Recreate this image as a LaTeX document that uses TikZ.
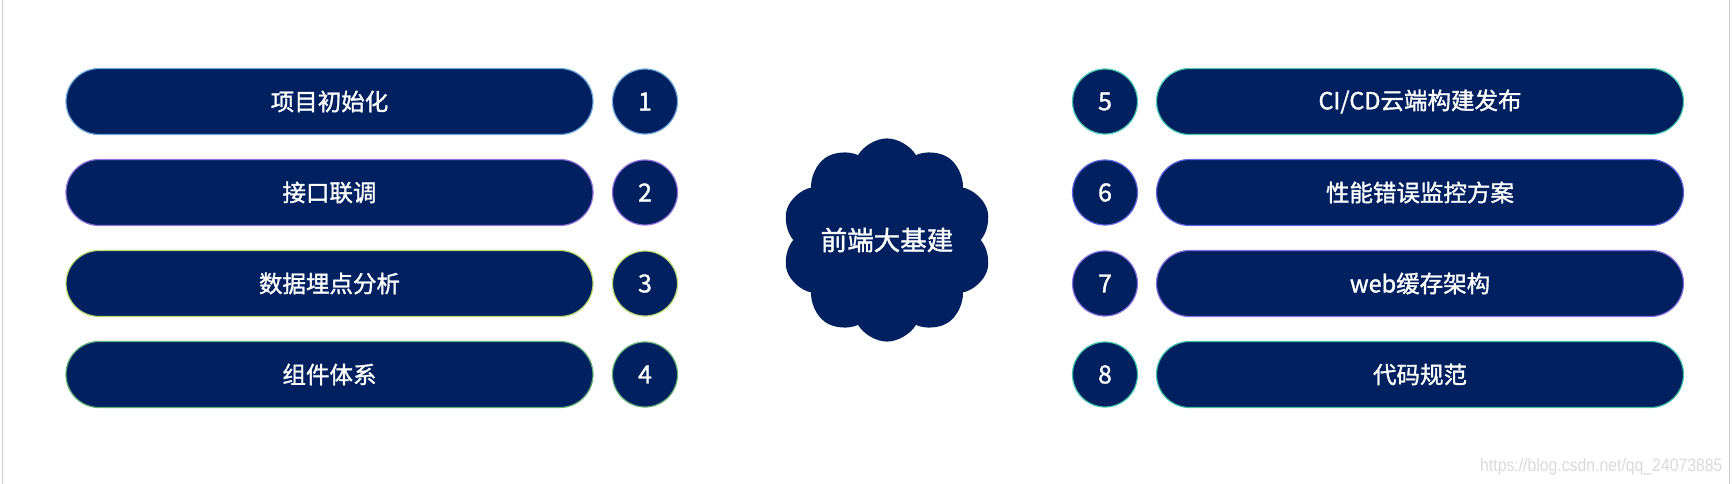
\documentclass[tikz,border=0pt]{standalone}
\usepackage{fontspec}
\setmainfont{Noto Sans CJK SC}
\newfontfamily\medfont[FakeBold=1.3]{Noto Sans CJK SC}
\newfontfamily\wmfont{Liberation Sans}
\usetikzlibrary{shapes.misc,shapes.symbols}
\definecolor{navy}{HTML}{002060}
\definecolor{oA}{HTML}{6FA8DC}
\definecolor{oB}{HTML}{9370DB}
\definecolor{oC}{HTML}{B8D86E}
\definecolor{oD}{HTML}{5FAE72}
\definecolor{oE}{HTML}{48C9B0}
\definecolor{oF}{HTML}{6366E0}
\definecolor{oG}{HTML}{8A6FE0}
\definecolor{oH}{HTML}{40C4A8}
\definecolor{frame}{HTML}{C8C8C8}
\definecolor{wm}{HTML}{DADADA}
\tikzset{
  pill/.style={rounded rectangle, fill=navy, line width=1.2pt, minimum width=527pt, minimum height=66pt, inner sep=0pt, text=white, font=\medfont\fontsize{23.5}{28}\selectfont},
  numdot/.style={circle, fill=navy, line width=1.2pt, minimum size=65pt, inner sep=0pt, text=white, font=\medfont\fontsize{25}{28}\selectfont},
  hub/.style={cloud, cloud puffs=10, cloud puff arc=120, aspect=1.05, fill=navy, minimum width=200pt, minimum height=188pt, inner sep=0pt, text=white, font=\medfont\fontsize{26.5}{30}\selectfont},
  watermark/.style={text=wm, font=\wmfont\fontsize{18}{20}\selectfont, inner sep=0pt}
}
\begin{document}
\begin{tikzpicture}[x=1pt,y=-1pt]
\useasboundingbox (0,0) rectangle (1732,484);
\draw[frame, line width=1pt] (2,0) -- (2,484);
\draw[frame, line width=1pt] (1729,0) -- (1729,484);
% left column
\node[pill, draw=oA] (p1) at (329.5,101.5) {项目初始化};
\node[pill, draw=oB] (p2) at (329.5,192.5) {接口联调};
\node[pill, draw=oC] (p3) at (329.5,283.5) {数据埋点分析};
\node[pill, draw=oD] (p4) at (329.5,374.5) {组件体系};
\node[numdot, draw=oA] (n1) at (645,101.5) {1};
\node[numdot, draw=oB] (n2) at (645,192.5) {2};
\node[numdot, draw=oC] (n3) at (645,283.5) {3};
\node[numdot, draw=oD] (n4) at (645,374.5) {4};
% right column
\node[numdot, draw=oE] (n5) at (1105,101.5) {5};
\node[numdot, draw=oF] (n6) at (1105,192.5) {6};
\node[numdot, draw=oG] (n7) at (1105,283.5) {7};
\node[numdot, draw=oH] (n8) at (1105,374.5) {8};
\node[pill, draw=oE] (p5) at (1420,101.5) {CI/CD云端构建发布};
\node[pill, draw=oF] (p6) at (1420,192.5) {性能错误监控方案};
\node[pill, draw=oG] (p7) at (1420,283.5) {web缓存架构};
\node[pill, draw=oH] (p8) at (1420,374.5) {代码规范};
% hub
\node[hub] (hub) at (887,240) {前端大基建};
% watermark
\node[watermark, anchor=base west] (wm) at (1480,471) {\scalebox{0.877}[1]{https://blog.csdn.net/qq\_24073885}};
\end{tikzpicture}
\end{document}
